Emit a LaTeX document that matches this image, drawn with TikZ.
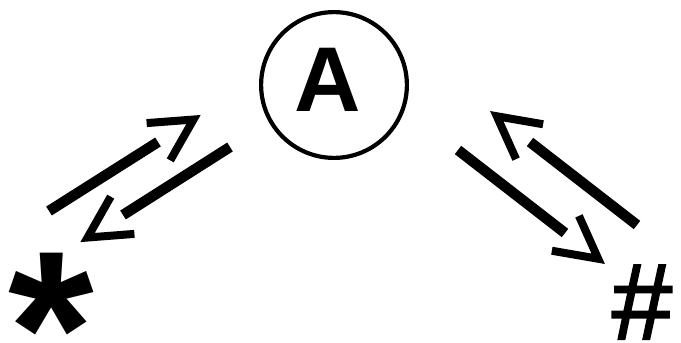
\documentclass[tikz,border=0pt]{standalone}
\usepackage{fontspec}
\setmainfont{Liberation Sans}
\newfontfamily\hashfont[FakeBold=2]{Liberation Sans}
\usetikzlibrary{calc}
\begin{document}
\begin{tikzpicture}[x=1pt,y=-1pt,
  bar/.style={line width=10.5pt, line cap=butt},
  head/.style={line width=8pt, line join=miter, miter limit=10, line cap=butt}]
\useasboundingbox (0,0) rectangle (681,343);
\node[circle, draw, line width=4.2pt, minimum size=145.8pt, inner sep=0pt] (A) at (334,85) {};
\node[anchor=base, inner sep=0pt, font=\fontsize{92}{92}\selectfont\bfseries] (Alabel) at (327.5,111) {A};
\node[anchor=base, inner sep=0pt, font=\fontsize{220}{220}\selectfont\bfseries] (star) at (51,335) {\raisebox{-69pt}[76pt][0pt]{*}};
\node[anchor=base, inner sep=0pt, font=\fontsize{108}{108}\hashfont] (hash) at (642,339) {\#};
\coordinate (l1s) at (49,211);  \coordinate (l1e) at (158,142);
\coordinate (l2s) at (230,147); \coordinate (l2e) at (123,215);
\coordinate (r1s) at (458,150); \coordinate (r1e) at (565,233);
\coordinate (r2s) at (637,225); \coordinate (r2e) at (530,142);
\foreach \s/\e in {l1s/l1e, l2s/l2e, r1s/r1e, r2s/r2e}{
  \draw[bar] (\s) -- (\e);
  \coordinate (\e t) at ($(\e)!-42pt!(\s)$);
  \draw[head] ($(\e t)!47pt!28:(\e)$) -- (\e t) -- ($(\e t)!47pt!-28:(\e)$);
}
\end{tikzpicture}
\end{document}
